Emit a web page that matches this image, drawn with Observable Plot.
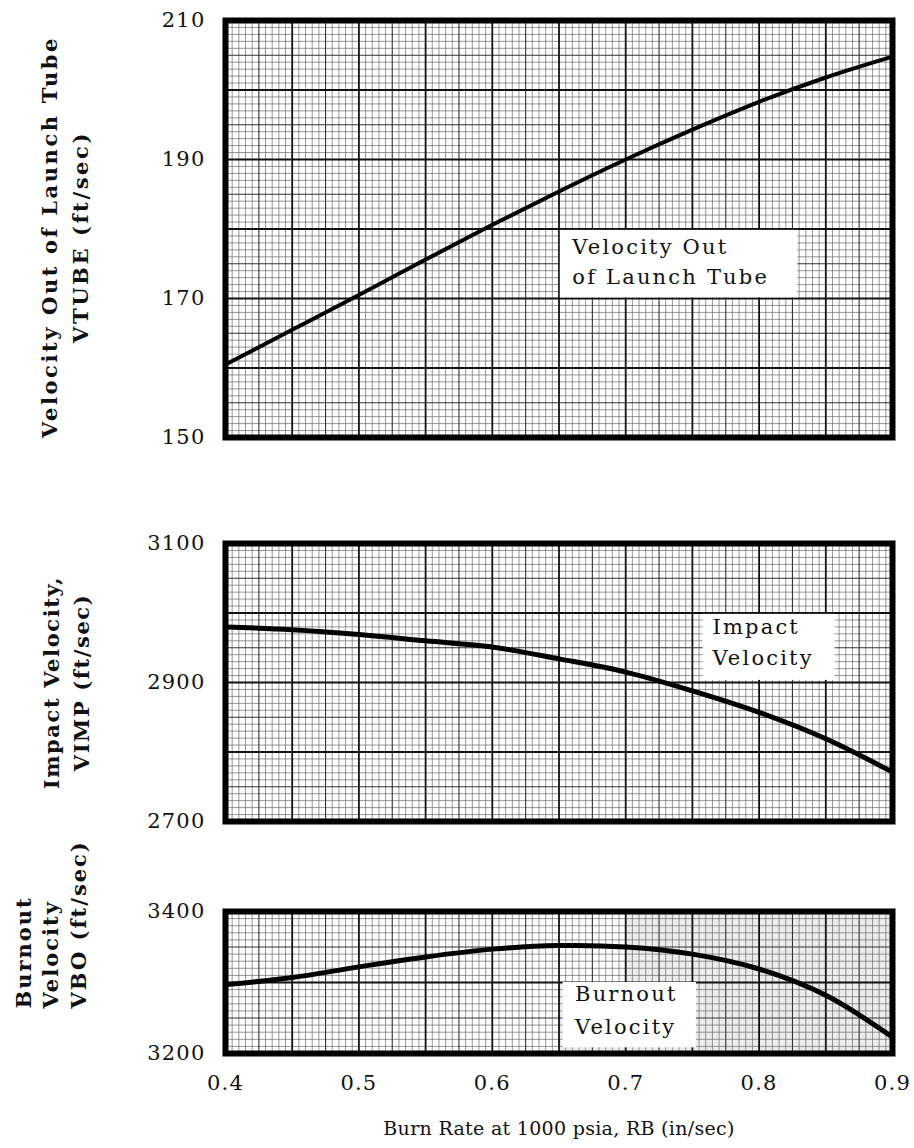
<!DOCTYPE html>
<html><head><meta charset="utf-8">
<script src="https://cdn.jsdelivr.net/npm/d3@7"></script>
<script src="https://cdn.jsdelivr.net/npm/@observablehq/plot@0.6"></script>
<style>
body{margin:0;background:#fff;}
#wrap{position:relative;width:914px;height:1148px;background:#fff;}
#wrap svg{position:absolute;left:0;background:transparent;}
</style></head><body><div id="wrap"></div>
<script>
// ---- data ----
const burnRate = [0.40, 0.45, 0.50, 0.55, 0.60, 0.65, 0.70, 0.75, 0.80, 0.85, 0.90];
const vtube = [160.5, 165.5, 170.5, 175.6, 180.6, 185.4, 190.0, 194.3, 198.3, 201.8, 204.8];
const vimp  = [2980, 2976, 2969, 2960, 2951, 2934, 2915, 2888, 2857, 2819, 2771];
const vbo   = [3297, 3307, 3322, 3336, 3347, 3352, 3350, 3340, 3319, 3282, 3223];

const xTickLabels = [0.4, 0.5, 0.6, 0.7, 0.8, 0.9];
const vtubeTicks = [150, 170, 190, 210];
const vimpTicks = [2700, 2900, 3100];
const vboTicks = [3200, 3400];

const vtubeTitle = "Velocity Out of Launch Tube\nVTUBE (ft/sec)";
const vimpTitle = "Impact Velocity,\nVIMP (ft/sec)";
const vboTitle = "Burnout\nVelocity\nVBO (ft/sec)";
const xTitle = "Burn Rate at 1000 psia, RB (in/sec)";

// in-chart curve labels (data units)
const vtubeNote = [{x: 0.66, y: 177.3, text: "Velocity Out"}, {x: 0.66, y: 173.0, text: "of Launch Tube"}];
const vtubeNoteBox = [{x1: 0.651, x2: 0.829, y1: 170.1, y2: 179.8}];
const vimpNote = [{x: 0.765, y: 2979, text: "Impact"}, {x: 0.765, y: 2935, text: "Velocity"}];
const vimpNoteBox = [{x1: 0.758, x2: 0.857, y1: 2903, y2: 2998}];
const vboNote = [{x: 0.662, y: 3283, text: "Burnout"}, {x: 0.662, y: 3237, text: "Velocity"}];
const vboNoteBox = [{x1: 0.653, x2: 0.753, y1: 3208, y2: 3300}];
const vboShade = [{x1: 0.70, x2: 0.90, y1: 3300, y2: 3400}, {x1: 0.65, x2: 0.90, y1: 3200, y2: 3300}];

// ---- graph-paper rulings ----
function rulings(lo, step, n) {
  const minor = [], med = [], major = [];
  for (let i = 0; i <= n; i++) {
    const v = +(lo + i * step).toFixed(6);
    if (i % 10 === 0) major.push(v); else if (i % 5 === 0) med.push(v); else minor.push(v);
  }
  return {minor, med, major};
}
const xr = rulings(0.4, 0.005, 100);

const serif = "DejaVu Serif";
const wrap = document.getElementById("wrap");

function panel(o) {
  const yr = rulings(o.domain[0], o.step, o.n);
  const rows = burnRate.map((b, i) => ({b, v: o.values[i]}));
  const marks = [];
  if (o.shade) marks.push(Plot.rect(o.shade, {x1: "x1", x2: "x2", y1: "y1", y2: "y2", fill: "#ececec"}));
  marks.push(
    Plot.ruleX(xr.minor, {stroke: "#6a6a6a", strokeWidth: 0.7}),
    Plot.ruleY(yr.minor, {stroke: "#6a6a6a", strokeWidth: 0.7}),
    Plot.ruleX(xr.med, {stroke: "#333", strokeWidth: 1.1}),
    Plot.ruleY(yr.med, {stroke: "#333", strokeWidth: 1.1}),
    Plot.ruleX(xr.major, {stroke: "#111", strokeWidth: 1.8}),
    Plot.ruleY(yr.major, {stroke: "#111", strokeWidth: 1.8}),
    Plot.rect(o.box, {x1: "x1", x2: "x2", y1: "y1", y2: "y2", fill: "white"}),
    Plot.text(o.note, {x: "x", y: "y", text: "text", textAnchor: "start", fontFamily: serif, fontSize: 21, fill: "#111", className: "note"}),
    Plot.line(rows, {x: "b", y: "v", stroke: "#000", strokeWidth: o.lw, curve: "catmull-rom"}),
    Plot.frame({stroke: "#000", strokeWidth: 6}),
    Plot.axisY(o.ticks, {tickSize: 0, tickPadding: 20, tickFormat: d3.format("d"), fontSize: 21, fontFamily: serif, label: null}),
    Plot.text([o.title], {frameAnchor: "left", rotate: -90, dx: o.tdx, dy: o.tdy || 0,
      textAnchor: o.tta || "middle", lineAnchor: "middle", lineHeight: o.lh,
      fontFamily: serif, fontWeight: "bold", fontSize: 21, fill: "#111", className: "ytitle"})
  );
  if (o.xaxis) {
    marks.push(
      Plot.axisX(xTickLabels, {tickSize: 0, tickPadding: 22, tickFormat: d3.format(".1f"), fontSize: 21, fontFamily: serif, label: null}),
      Plot.text([xTitle], {frameAnchor: "bottom", dy: 75, lineAnchor: "middle", fontFamily: serif, fontSize: 19, fill: "#111", className: "xtitle"})
    );
  }
  const svg = Plot.plot({
    width: 914, height: o.height,
    marginLeft: 225, marginRight: 22, marginTop: o.mt, marginBottom: o.mb,
    x: {domain: [0.4, 0.9], axis: o.xaxis ? undefined : null},
    y: {domain: o.domain},
    style: {fontFamily: serif, fontSize: "21px", color: "#111", background: "transparent", overflow: "visible"},
    marks
  });
  svg.style.top = o.top + "px";
  const s = d3.select(svg);
  s.selectAll("text").style("letter-spacing", "1.2px");
  s.selectAll(".note text").style("letter-spacing", "2.2px");
  s.selectAll(".ytitle text").style("letter-spacing", o.tls || "2px");
  s.selectAll(".xtitle text").style("letter-spacing", "0.3px");
  wrap.appendChild(svg);
}

panel({top: 0, height: 480, mt: 20, mb: 43, domain: [150, 210], step: 1, n: 60, values: vtube, ticks: vtubeTicks,
  title: vtubeTitle, tdx: -163, tdy: 8, lh: 1.5, tls: "2.6px", note: vtubeNote, box: vtubeNoteBox, lw: 4});
panel({top: 480, height: 390, mt: 63, mb: 49, domain: [2700, 3100], step: 10, n: 40, values: vimp, ticks: vimpTicks,
  title: vimpTitle, tdx: -161, lh: 1.45, tls: "1.6px", note: vimpNote, box: vimpNoteBox, lw: 5});
panel({top: 870, height: 278, mt: 41, mb: 95, domain: [3200, 3400], step: 10, n: 20, values: vbo, ticks: vboTicks,
  title: vboTitle, tdx: -176, tdy: 26, tta: "start", lh: 1.33, tls: "2px", note: vboNote, box: vboNoteBox, lw: 5, shade: vboShade, xaxis: true});
</script></body></html>
